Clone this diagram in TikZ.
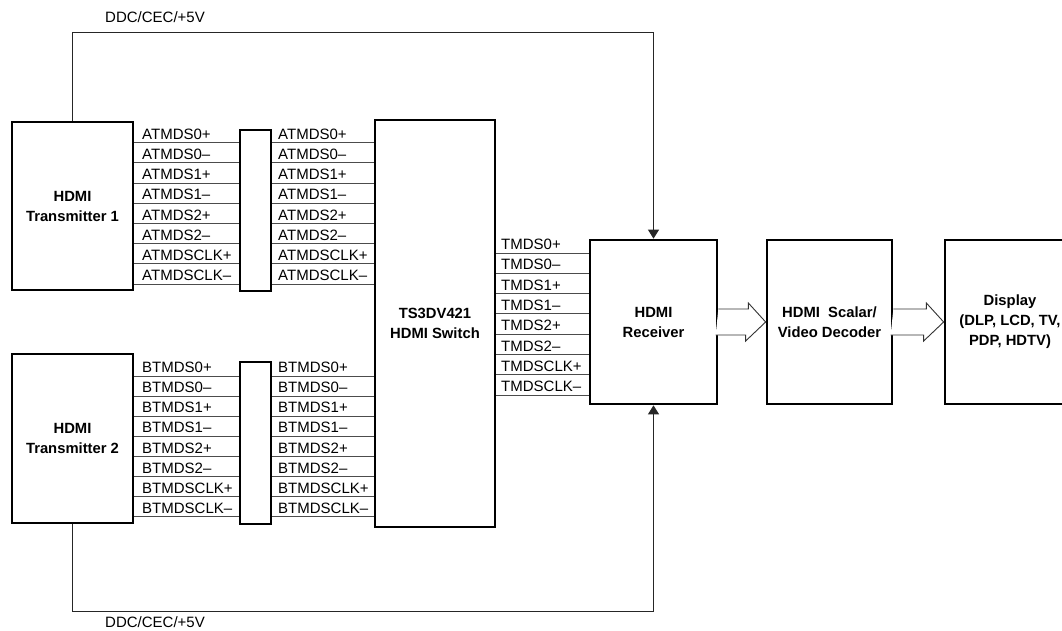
\documentclass[tikz,border=0pt]{standalone}
\usepackage{fontspec}
\setmainfont{Liberation Sans}
\usetikzlibrary{arrows.meta,calc}
\tikzset{
  blockbox/.style={rectangle, draw=black, line width=2.7pt, align=center, inner sep=0pt, font=\fontsize{14.8}{20}\selectfont\bfseries},
  pinline/.style={draw=black!70, line width=0.9pt},
  pinlbl/.style={anchor=base west, inner sep=0pt, font=\fontsize{15}{16}\selectfont},
  ddcline/.style={draw=black!85, line width=1pt},
  ddcarrow/.style={ddcline, -{Triangle[length=9pt,width=11pt]}},
  busarrow/.style={draw=black!80, line width=0.9pt, fill=white, line join=miter}
}
\begin{document}
\begin{tikzpicture}[x=1pt, y=-1pt]
\useasboundingbox (0,0) rectangle (1062,631);
\clip (0,0) rectangle (1062,631);
% blocks
\node[blockbox, minimum width=121pt, minimum height=168pt] (tx1) at (72.5,206) {HDMI\\Transmitter 1};
\node[blockbox, minimum width=121pt, minimum height=169pt] (tx2) at (72.5,438.5) {HDMI\\Transmitter 2};
\node[blockbox, minimum width=31pt, minimum height=161pt] (conna) at (255.5,210.5) {};
\node[blockbox, minimum width=31pt, minimum height=162pt] (connb) at (255.5,443) {};
\node[blockbox, minimum width=120pt, minimum height=407pt] (sw) at (435,323.5) {TS3DV421\\HDMI Switch};
\node[blockbox, minimum width=127pt, minimum height=164pt] (rx) at (653.5,322) {HDMI\\Receiver};
\node[blockbox, minimum width=125pt, minimum height=164pt] (scaler) at (829.5,322) {HDMI~~Scalar/\\Video Decoder};
\node[blockbox, minimum width=130pt, minimum height=164pt] (disp) at (1010,322) {Display\\(DLP, LCD, TV,\\PDP, HDTV)};
% TMDS pairs
\foreach \sig [count=\i] in {0+,0--,1+,1--,2+,2--,CLK+,CLK--}{
  \pgfmathsetmacro\ya{142.7+20.2*(\i-1)}
  \pgfmathsetmacro\yb{376+20.1*(\i-1)}
  \pgfmathsetmacro\yc{253+20.3*(\i-1)}
  \coordinate (ra\i) at (0,\ya);
  \coordinate (rb\i) at (0,\yb);
  \coordinate (rc\i) at (0,\yc);
  \draw[pinline] (tx1.east |- ra\i) -- (conna.west |- ra\i);
  \draw[pinline] (conna.east |- ra\i) -- (sw.west |- ra\i);
  \draw[pinline] (tx2.east |- rb\i) -- (connb.west |- rb\i);
  \draw[pinline] (connb.east |- rb\i) -- (sw.west |- rb\i);
  \draw[pinline] (sw.east |- rc\i) -- (rx.west |- rc\i);
  \node[pinlbl] (la\i) at ($(142,0)+(ra\i)+(0,-3.4)$) {ATMDS\sig};
  \node[pinlbl] (lb\i) at ($(278,0)+(ra\i)+(0,-3.4)$) {ATMDS\sig};
  \node[pinlbl] (lc\i) at ($(142,0)+(rb\i)+(0,-3.4)$) {BTMDS\sig};
  \node[pinlbl] (ld\i) at ($(278,0)+(rb\i)+(0,-3.4)$) {BTMDS\sig};
  \node[pinlbl] (le\i) at ($(501,0)+(rc\i)+(0,-3.4)$) {TMDS\sig};
}
% DDC/CEC/+5V
\draw[ddcarrow] (tx1.north) -- ++(0,-88) -| (rx.north);
\draw[ddcarrow] (tx2.south) -- ++(0,87) -| (rx.south);
\node[pinlbl, anchor=west] (ddctop) at (105,17) {DDC/CEC/+5V};
\node[pinlbl, anchor=west] (ddcbot) at (105,622) {DDC/CEC/+5V};
% video bus arrows
\draw[busarrow] ($(rx.east)+(0,-13)$) -- ++(30,0) -- ++(0,-6) -- (scaler.west) -- ++(-20,19) -- ++(0,-6) -- ++(-30,0);
\draw[busarrow] ($(scaler.east)+(0,-13)$) -- ++(33,0) -- ++(0,-6) -- (disp.west) -- ++(-20,19) -- ++(0,-6) -- ++(-33,0);
\end{tikzpicture}
\end{document}
